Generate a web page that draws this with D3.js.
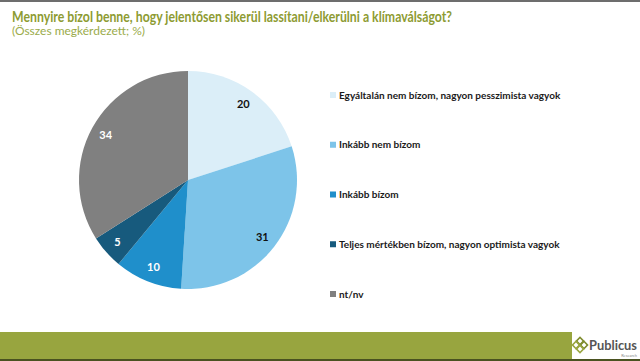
<!DOCTYPE html>
<html><head><meta charset="utf-8">
<script src="https://cdn.jsdelivr.net/npm/d3@7"></script>
<style>body{margin:0;background:#fff;}svg{display:block;}</style>
</head><body>
<svg id="c" width="640" height="361"></svg>
<script>
const categories = ["Egyáltalán nem bízom, nagyon pesszimista vagyok","Inkább nem bízom","Inkább bízom","Teljes mértékben bízom, nagyon optimista vagyok","nt/nv"];
const values = [20, 31, 10, 5, 34];
const colors = ["#dbeef8", "#7dc4e9", "#1f8fcb", "#175a7d", "#808080"];
const labelColors = ["#111", "#111", "#fff", "#fff", "#fff"];
const title = "Mennyire bízol benne, hogy jelentősen sikerül lassítani/elkerülni a klímaválságot?";
const subtitle = "(Összes megkérdezett; %)";

const svg = d3.select("#c");
const font = "Lato, 'Open Sans', sans-serif";

svg.append("rect").attr("x",0).attr("y",0).attr("width",640).attr("height",2).attr("fill","#6d6d6d");
svg.append("text").attr("x",12).attr("y",22).attr("font-family",font).attr("font-weight","bold")
  .attr("font-size",15).attr("fill","#8d9b32")
  .attr("textLength",440).attr("lengthAdjust","spacingAndGlyphs").text(title);
svg.append("text").attr("x",12).attr("y",35).attr("font-family",font)
  .attr("font-size",10.5).attr("fill","#9aab4a")
  .attr("textLength",133).attr("lengthAdjust","spacingAndGlyphs").text(subtitle);

const cx = 188, cy = 180, R = 109;
const pie = d3.pie().sort(null).value(d => d)(values);
const arc = d3.arc().innerRadius(0).outerRadius(R);
const labelArc = d3.arc().innerRadius(94).outerRadius(94);
const g = svg.append("g").attr("transform", `translate(${cx},${cy})`);
g.selectAll("path").data(pie).join("path").attr("d", arc).attr("fill", (d,i) => colors[i]);
g.selectAll("text").data(pie).join("text")
  .attr("transform", d => `translate(${labelArc.centroid(d)})`)
  .attr("text-anchor","middle").attr("dy","0.35em")
  .attr("font-family",font).attr("font-weight","bold").attr("font-size",11)
  .attr("fill",(d,i)=>labelColors[i]).text(d => d.data);

const ly = d3.scalePoint().domain(categories).range([95, 294]);
const lg = svg.append("g");
categories.forEach((c,i) => {
  lg.append("rect").attr("x",330).attr("y",ly(c)-3).attr("width",6).attr("height",6).attr("fill",colors[i]);
  lg.append("text").attr("x",339).attr("y",ly(c)).attr("dy","0.35em")
    .attr("font-family",font).attr("font-weight","bold").attr("font-size",10).attr("fill","#1a1a1a").text(c);
});

svg.append("rect").attr("x",0).attr("y",332).attr("width",572).attr("height",27).attr("fill","#98a53f");
svg.append("rect").attr("x",0).attr("y",359).attr("width",640).attr("height",2).attr("fill","#4a5220");
// logo
const logo = svg.append("g").attr("transform","translate(580,346)");
[[0,-5],[-4,-1],[4,-1],[0,3]].forEach(([dx,dy],i)=>{
  logo.append("rect").attr("x",dx-2.5).attr("y",dy-2.5).attr("width",5).attr("height",5)
    .attr("transform",`rotate(45 ${dx} ${dy})`).attr("fill","none")
    .attr("stroke", i%2 ? "#98a53f" : "#7f8c2e").attr("stroke-width",1.6);
});
svg.append("text").attr("x",589).attr("y",350).attr("font-family",font).attr("font-weight","bold")
  .attr("font-size",13.5).attr("fill","#555").attr("textLength",48).attr("lengthAdjust","spacingAndGlyphs").text("Publicus");
svg.append("text").attr("x",637).attr("y",357).attr("text-anchor","end").attr("font-family",font)
  .attr("font-size",4).attr("fill","#888").text("Research");
</script>
</body></html>
